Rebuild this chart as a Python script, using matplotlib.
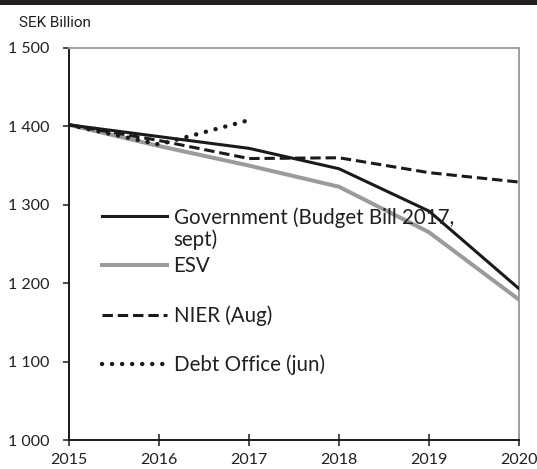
import matplotlib
matplotlib.use('Agg')
import matplotlib.pyplot as plt
from matplotlib.patches import Rectangle

years = [2015, 2016, 2017, 2018, 2019, 2020]
government = [1402, 1387, 1372, 1346, 1292, 1193]
esv = [1402, 1375, 1350, 1323, 1265, 1179]
nier = [1402, 1382, 1359, 1360, 1341, 1329]
debt_years = [2015, 2016, 2017]
debt_office = [1402, 1377, 1408]

yticks = [1000, 1100, 1200, 1300, 1400, 1500]
ytick_labels = ['1 000', '1 100', '1 200', '1 300', '1 400', '1 500']
xtick_labels = ['2015', '2016', '2017', '2018', '2019', '2020']

labels = ['Government (Budget Bill 2017,', 'ESV', 'NIER (Aug)', 'Debt Office (jun)']
label_cont = 'sept)'
y_unit = 'SEK Billion'

FONT = ['Lato', 'DejaVu Sans']
plt.rcParams['font.family'] = FONT

fig = plt.figure(figsize=(5.37, 4.69), dpi=100)
ax = fig.add_axes([69/537, 1-440/469, 450/537, 392/469])

fig.patches.append(Rectangle((0, 1-5/469), 1, 5/469, transform=fig.transFigure,
                             facecolor='#231f20', edgecolor='none'))

l1, = ax.plot(years, government, color='#1a1a1a', lw=2.2, solid_joinstyle='miter', zorder=4)
l2, = ax.plot(years, esv, color='#9b9b9b', lw=2.9, zorder=3)
l3, = ax.plot(years, nier, color='#1a1a1a', lw=2.2, linestyle=(0, (3.4, 1.6)), zorder=4)
l4, = ax.plot(debt_years, debt_office, color='#1a1a1a', lw=3.2,
              linestyle=(0, (0.01, 2.25)), dash_capstyle='round', zorder=4)

ax.set_xlim(2015, 2020)
ax.set_ylim(1000, 1500)
ax.set_xticks(years)
ax.set_xticklabels(xtick_labels)
ax.set_yticks(yticks)
ax.set_yticklabels(ytick_labels)

for s in ['left', 'bottom']:
    ax.spines[s].set_color('#1a1a1a')
    ax.spines[s].set_linewidth(1.4)
for s in ['top', 'right']:
    ax.spines[s].set_color('#a0a0a0')
    ax.spines[s].set_linewidth(1.4)

ax.tick_params(axis='x', direction='inout', length=8, width=1.1, color='#1a1a1a',
               labelsize=11.5, pad=5, labelcolor='#231f20')
ax.tick_params(axis='y', direction='out', length=4, width=1.1, color='#1a1a1a',
               labelsize=11.5, pad=10, labelcolor='#231f20')

fig.text(19/537, 1-23/469, y_unit, family=['Liberation Sans Narrow', 'Roboto', 'DejaVu Sans'],
         fontsize=11, va='center', ha='left', color='#231f20')

FS = 14.8
leg = ax.legend([l1, l2, l3, l4], labels, loc='upper left',
                bbox_to_anchor=(33/450, (440-207)/392), frameon=False,
                fontsize=FS, handlelength=3.15, handletextpad=0.33,
                labelspacing=1.4, borderpad=0, borderaxespad=0)
for t in leg.get_texts():
    t.set_color('#231f20')

ax.annotate(label_cont, xy=(0, 0), xycoords=leg.get_texts()[0], xytext=(0, -13.5),
            textcoords='offset points', va='baseline', ha='left', fontsize=FS,
            color='#231f20', zorder=6)

fig.savefig('out.png', dpi=100)
